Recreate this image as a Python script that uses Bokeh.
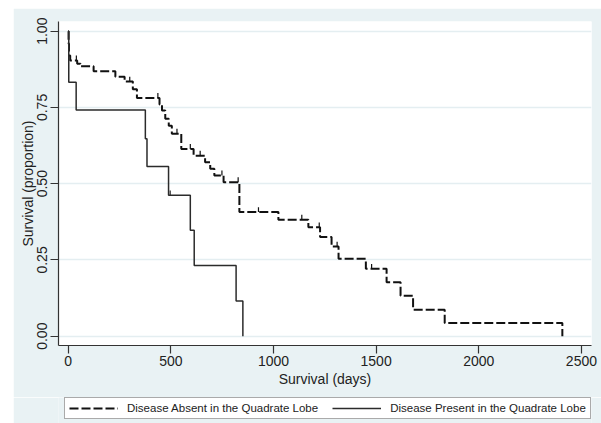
import numpy as np
from bokeh.plotting import figure
from bokeh.layouts import column
from bokeh.models import Legend, LegendItem, FixedTicker
from bokeh.embed import file_html
from bokeh.resources import INLINE

# ---- data ----
absent_times = [0, 2, 4, 10, 44, 60, 124, 230, 275, 315, 335, 445, 457, 473, 490, 505,
                551, 611, 667, 692, 712, 757, 834, 1024, 1170, 1227, 1283, 1317, 1450,
                1551, 1619, 1680, 1834, 2407]
absent_surv = [1.0, 0.96, 0.92, 0.904, 0.893, 0.885, 0.869, 0.851, 0.835, 0.81, 0.781,
               0.76, 0.74, 0.713, 0.69, 0.664, 0.614, 0.592, 0.570, 0.549, 0.527, 0.505,
               0.407, 0.382, 0.357, 0.325, 0.294, 0.254, 0.221, 0.177, 0.133, 0.087,
               0.043, 0.0]
absent_censored = [40, 300, 437, 530, 595, 643, 749, 828, 927, 1138, 1223, 1310, 1478]

present_times = [0, 3, 39, 376, 384, 489, 595, 614, 818, 851]
present_surv = [1.0, 0.833, 0.742, 0.647, 0.556, 0.462, 0.347, 0.232, 0.115, 0.0]
present_censored = [497]

x_ticks = [0, 500, 1000, 1500, 2000, 2500]
y_ticks = [0.0, 0.25, 0.5, 0.75, 1.0]
y_tick_labels = ["0.00", "0.25", "0.50", "0.75", "1.00"]

label_absent = "Disease Absent in the Quadrate Lobe"
label_present = "Disease Present in the Quadrate Lobe"
x_title = "Survival (days)"
y_title = "Survival (proportion)"

# ---- styles ----
BG = "#e9f2f4"
GRID = "#e4eef1"
FONT = "Liberation Sans"
INK = "#222222"
ABS_COLOR = "#111111"
PRE_COLOR = "#2b2b2b"
ABS_DASH = "9 3"
TICK_LEN = 0.016


def censor_levels(times, surv, cens):
    idx = np.searchsorted(np.asarray(times), np.asarray(cens), side="right") - 1
    return [surv[i] for i in idx]


p = figure(frame_width=533, frame_height=324, output_backend="svg", toolbar_location=None,
           x_range=(-47, 2549), y_range=(-0.0305, 1.0318))
p.min_border_left = 45
p.min_border_right = 10
p.min_border_top = 13
p.min_border_bottom = 52
p.background_fill_color = "white"
p.border_fill_color = BG
p.outline_line_color = None

p.xgrid.visible = False
p.ygrid.ticker = FixedTicker(ticks=y_ticks)
p.ygrid.grid_line_color = GRID
p.ygrid.grid_line_width = 1.5

p.xaxis.ticker = FixedTicker(ticks=x_ticks)
p.yaxis.ticker = FixedTicker(ticks=y_ticks)
p.yaxis.major_label_overrides = {t: l for t, l in zip(y_ticks, y_tick_labels)}
p.yaxis.major_label_orientation = "vertical"

for ax in (p.xaxis, p.yaxis):
    ax.axis_line_color = "#333333"
    ax.axis_line_width = 1.2
    ax.major_tick_line_color = "#333333"
    ax.major_tick_line_width = 1.2
    ax.major_tick_out = 8
    ax.major_tick_in = 0
    ax.minor_tick_line_color = None
    ax.major_label_text_font = FONT
    ax.major_label_text_font_size = "14px"
    ax.major_label_text_color = INK
    ax.axis_label_text_font = FONT
    ax.axis_label_text_font_size = "14px"
    ax.axis_label_text_font_style = "normal"
    ax.axis_label_text_color = INK

p.xaxis.axis_label = x_title
p.yaxis.axis_label = y_title
p.xaxis.major_label_standoff = 2
p.xaxis.axis_label_standoff = 2
p.yaxis.major_label_standoff = 3
p.yaxis.axis_label_standoff = -1

# curves
p.step(absent_times, absent_surv, mode="after", line_color=ABS_COLOR,
       line_width=2, line_dash=ABS_DASH)
p.step(present_times, present_surv, mode="after", line_color=PRE_COLOR,
       line_width=1.5)

# censoring ticks
ya = censor_levels(absent_times, absent_surv, absent_censored)
p.segment(x0=absent_censored, y0=ya, x1=absent_censored,
          y1=[v + TICK_LEN for v in ya], line_color=ABS_COLOR, line_width=1.2)
yp = censor_levels(present_times, present_surv, present_censored)
p.segment(x0=present_censored, y0=yp, x1=present_censored,
          y1=[v + TICK_LEN for v in yp], line_color=PRE_COLOR, line_width=1.2)

# ---- legend strip (separate figure below the plot) ----
lg = figure(width=588, height=26, output_backend="svg", toolbar_location=None,
            x_range=(0, 1), y_range=(0, 1), x_axis_type=None, y_axis_type=None)
lg.min_border = 0
lg.min_border_left = 0
lg.min_border_right = 0
lg.min_border_top = 0
lg.min_border_bottom = 0
lg.background_fill_color = BG
lg.border_fill_color = BG
lg.outline_line_color = None
lg.xgrid.visible = False
lg.ygrid.visible = False
# off-screen proxies, only used to draw the legend swatches
la = lg.line(x=[5, 6], y=[5, 6], line_color=ABS_COLOR, line_width=2, line_dash=ABS_DASH)
lp = lg.line(x=[5, 6], y=[5, 6], line_color=PRE_COLOR, line_width=1.5)

legend = Legend(items=[LegendItem(label=label_absent, renderers=[la]),
                       LegendItem(label=label_present, renderers=[lp])],
                orientation="horizontal", location=(6, 4))
legend.border_line_color = "#555555"
legend.border_line_width = 1
legend.background_fill_color = "white"
legend.background_fill_alpha = 1
legend.label_text_font = FONT
legend.label_text_font_size = "11.5px"
legend.label_text_color = INK
legend.glyph_width = 49
legend.glyph_height = 12
legend.label_standoff = 9
legend.spacing = 14
legend.padding = 4
legend.margin = 0
lg.add_layout(legend, "center")

layout = column(p, lg, spacing=0)
layout.margin = (8, 0, 0, 13)

open("out.html", "w").write(file_html(layout, INLINE))
